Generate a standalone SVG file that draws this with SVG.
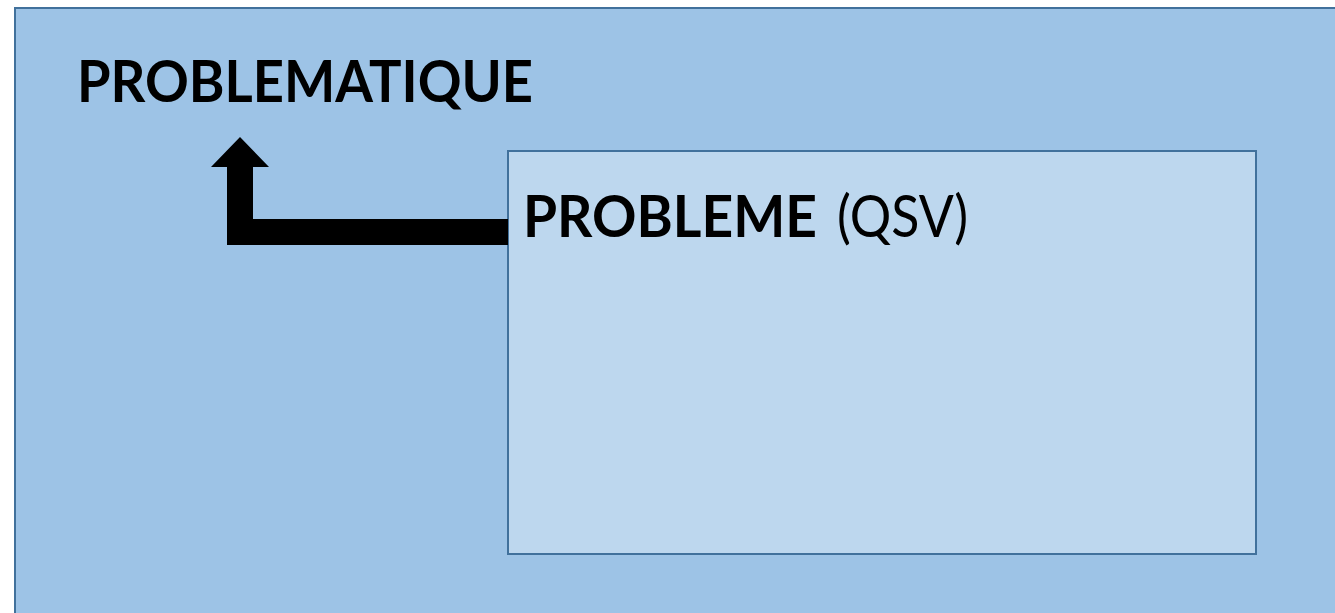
<svg xmlns="http://www.w3.org/2000/svg" width="1335" height="613" viewBox="0 0 1335 613">
<style>
.box{stroke:#41719c;stroke-width:2}
.t{font-family:Lato,"Open Sans","Liberation Sans",sans-serif;fill:#000}
.b{font-weight:bold}
</style>
<rect width="1335" height="613" fill="#ffffff"/>
<g id="problematique">
<rect class="box" x="15" y="8" width="1335" height="620" fill="#9dc3e6"/>
<text class="t b" x="77" y="102" font-size="57" textLength="456" lengthAdjust="spacingAndGlyphs">PROBLEMATIQUE</text>
</g>
<g id="probleme">
<rect class="box" x="508" y="151" width="748" height="403" fill="#bdd7ee"/>
<text class="t" y="237" font-size="58"><tspan class="b" x="523" textLength="294" lengthAdjust="spacingAndGlyphs">PROBLEME</tspan><tspan x="837" textLength="131" lengthAdjust="spacingAndGlyphs">(QSV)</tspan></text>
</g>
<g id="connectors">
<polygon points="240,137 269,167 253,167 253,219 508,219 508,245 227,245 227,167 211,167" fill="#000"/>
</g>
</svg>
